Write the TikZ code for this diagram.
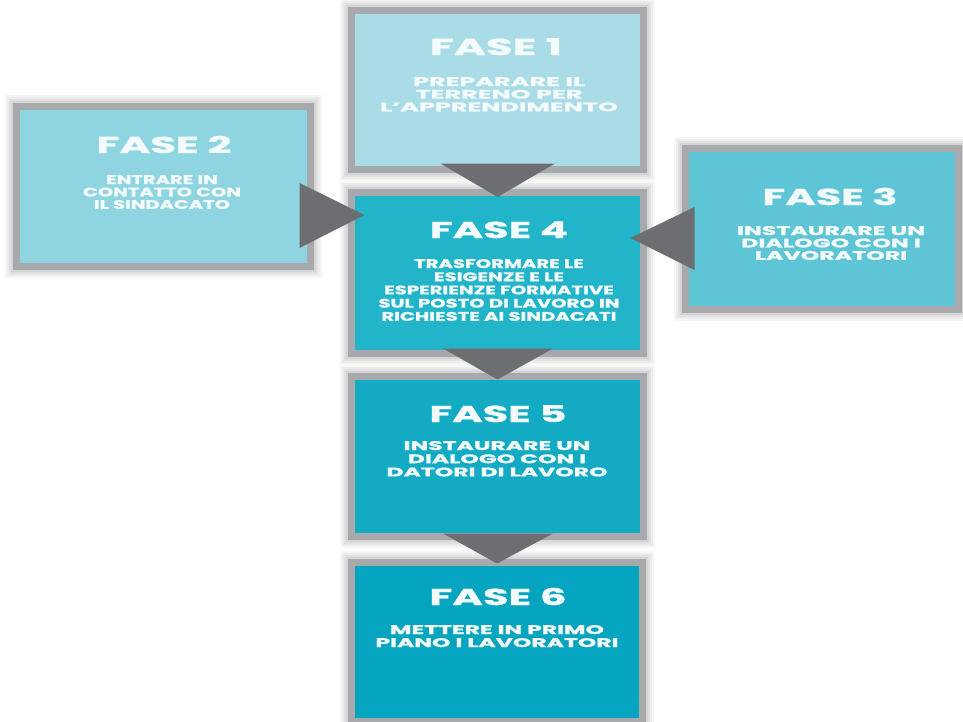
\documentclass[tikz,border=0pt]{standalone}
\usepackage{fontspec}
\setmainfont{Poppins}[BoldFeatures={FakeBold=1}]
\usetikzlibrary{calc}
\definecolor{bordergray}{HTML}{A7A9AC}
\definecolor{arrowgray}{HTML}{6D6E71}
\definecolor{txtc}{HTML}{F4FBFC}
\definecolor{fa}{HTML}{A9DCE7}
\definecolor{fb}{HTML}{8ED4E1}
\definecolor{fc}{HTML}{5EC5D6}
\definecolor{fd}{HTML}{22B4C9}
\definecolor{fe}{HTML}{13ABC3}
\definecolor{ff}{HTML}{05A5C0}
\newlength\phw
\newcommand\phtitle[2]{%
  \settowidth\phw{\fontsize{23}{23}\selectfont\bfseries #2}%
  \pgfmathsetmacro\phs{#1/\phw}%
  \scalebox{\phs}[1]{\fontsize{23}{23}\selectfont\bfseries #2}}
\newcommand\phsub[3][12.5]{%
  \settowidth\phw{\fontsize{12.5}{#1}\selectfont\bfseries\begin{tabular}{@{}c@{}}#3\end{tabular}}%
  \pgfmathsetmacro\phs{#2/\phw}%
  \scalebox{\phs}[1]{\fontsize{12.5}{#1}\selectfont\bfseries\begin{tabular}[t]{@{}c@{}}#3\end{tabular}}}
\tikzset{
  shadowed/.style={
    preaction={draw=black, draw opacity=0.035, line width=23pt},
    preaction={draw=black, draw opacity=0.04, line width=19pt},
    preaction={draw=black, draw opacity=0.045, line width=15pt},
    preaction={draw=black, draw opacity=0.05, line width=11pt}},
  phase/.style={rectangle, draw=bordergray, line width=7pt, inner sep=0pt, shadowed},
  ttl/.style={text=txtc, anchor=base, inner sep=0pt},
  arrowtri/.style={fill=arrowgray, draw=none}
}
\begin{document}
\begin{tikzpicture}[x=1pt,y=-1pt]
\useasboundingbox (0,0) rectangle (963,721);
\fill[white] (0,0) rectangle (963,721);
\clip (0,0) rectangle (963,721);
% boxes
\node[phase, fill=fa, minimum width=292pt, minimum height=159pt] (b1) at (497.5,90) {};
\node[phase, fill=fb, minimum width=294pt, minimum height=160pt] (b2) at (163.5,186.5) {};
\node[phase, fill=fc, minimum width=273pt, minimum height=161pt] (b3) at (822,229) {};
\node[phase, fill=fd, minimum width=292pt, minimum height=161pt] (b4) at (497.5,273) {};
\node[phase, fill=fe, minimum width=292pt, minimum height=160pt] (b5) at (497.5,456.5) {};
\node[phase, fill=ff, minimum width=291pt, minimum height=159pt] (b6) at (497,642) {};
% texts
\node[ttl] (t1) at (496,55) {\phtitle{132}{FASE 1}};
\node[ttl] (s1) at (499,86) {\phsub{238}{PREPARARE IL\\TERRENO PER\\L’APPRENDIMENTO}};
\node[ttl] (t2) at (164,153) {\phtitle{135}{FASE 2}};
\node[ttl] (s2) at (162,184) {\phsub[11.8]{158}{ENTRARE IN\\CONTATTO CON\\IL SINDACATO}};
\node[ttl] (t3) at (830,205) {\phtitle{135}{FASE 3}};
\node[ttl] (s3) at (831,235) {\phsub[11.8]{188}{INSTAURARE UN\\DIALOGO CON I\\LAVORATORI}};
\node[ttl] (t4) at (499,238) {\phtitle{138}{FASE 4}};
\node[ttl] (s4) at (499,268) {\phsub[13.2]{241}{TRASFORMARE LE\\ESIGENZE E LE\\ESPERIENZE FORMATIVE\\SUL POSTO DI LAVORO IN\\RICHIESTE AI SINDACATI}};
\node[ttl] (t5) at (498,422) {\phtitle{137}{FASE 5}};
\node[ttl] (s5) at (497,450) {\phsub[13.2]{221}{INSTAURARE UN\\DIALOGO CON I\\DATORI DI LAVORO}};
\node[ttl] (t6) at (498,605) {\phtitle{137}{FASE 6}};
\node[ttl] (s6) at (497,634) {\phsub[13]{243}{METTERE IN PRIMO\\PIANO I LAVORATORI}};
% arrows
\path[arrowtri] ($(b1.south)+(-57,-9.5)$) -- ($(b1.south)+(57.5,-9.5)$) -- ($(b4.north)+(0,8)$) -- cycle;
\path[arrowtri] ($(b4.south)+(-54.5,-8.5)$) -- ($(b4.south)+(55.5,-8.5)$) -- ($(b5.north)+(0,6.5)$) -- cycle;
\path[arrowtri] ($(b5.south)+(-54.5,-6.5)$) -- ($(b5.south)+(55.5,-6.5)$) -- ($(b6.north)+(0,4.5)$) -- cycle;
\path[arrowtri] ($(b2.east)+(-14.5,-3.5)$) -- ($(b2.east)+(-14.5,61.5)$) -- ($(b4.west)+(16.5,-58)$) -- cycle;
\path[arrowtri] ($(b3.west)+(12.5,-22)$) -- ($(b3.west)+(12.5,41)$) -- ($(b4.east)+(-16.5,-35)$) -- cycle;
\end{tikzpicture}
\end{document}
